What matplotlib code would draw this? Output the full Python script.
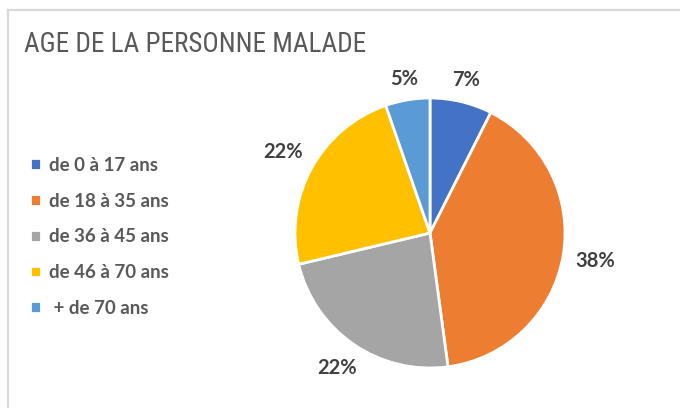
import numpy as np
import matplotlib.pyplot as plt
from matplotlib.lines import Line2D
from matplotlib import font_manager

# data
categories = ['de 0 à 17 ans', 'de 18 à 35 ans', 'de 36 à 45 ans', 'de 46 à 70 ans', ' + de 70 ans']
values = [7, 38, 22, 22, 5]
colors = ['#4472C4', '#ED7D31', '#A5A5A5', '#FFC000', '#5B9BD5']
title = 'AGE DE LA PERSONNE MALADE'

# look for a narrow sans for the title (Arial Narrow look)
narrow = None
for f in font_manager.fontManager.ttflist:
    n = f.name.lower()
    cond = ('narrow' in n or 'condensed' in n or
            str(f.stretch) in ('condensed', 'semi-condensed', 'extra-condensed'))
    if cond and f.style == 'normal' and 'mono' not in n and 'serif' not in n:
        if narrow is None or f.weight in (400, 'normal', 'regular'):
            narrow = f
if narrow is not None:
    title_prop = font_manager.FontProperties(fname=narrow.fname)
else:
    title_prop = font_manager.FontProperties(family='Liberation Sans')

W, H = 680, 408
fig = plt.figure(figsize=(W / 100, H / 100), dpi=100)
fig.patch.set_facecolor('white')

# chart frame (only top and left visible)
fig.add_artist(Line2D([8 / W, 1], [1 - 10 / H, 1 - 10 / H], color='#d9d9d9', lw=1.6))
fig.add_artist(Line2D([8 / W, 8 / W], [0, 1 - 10 / H], color='#d9d9d9', lw=1.6))

title_prop.set_size(19)
tt = fig.text(24 / W, 1 - 52 / H, title, fontproperties=title_prop,
              color='#595959', va='baseline', ha='left')
# fit the title width to the reference (~341 px)
fig.canvas.draw()
w = tt.get_window_extent().width
title_prop.set_size(19 * 341 / w)
tt.set_fontproperties(title_prop)

# pie axes, centre (430, 233), radius 135 px
cx, cy, r = 430, 233, 135
ax = fig.add_axes([(cx - r) / W, (H - cy - r) / H, 2 * r / W, 2 * r / H])
ax.axis('off')

lab_size = 14.5
wedges, texts = ax.pie(
    values,
    colors=colors,
    startangle=90,
    counterclock=False,
    radius=1,
    labels=['%d%%' % v for v in values],
    labeldistance=1.2,
    wedgeprops=dict(edgecolor='white', linewidth=2),
    textprops=dict(family='Lato', fontweight='bold', fontsize=lab_size, color='#404040'),
)
ax.set_xlim(-1, 1)
ax.set_ylim(-1, 1)
ax.set_aspect('auto')

# Excel style outside-end labels: box edge sits just outside the circle
fig.canvas.draw()
hh = 0.36 * lab_size * 100 / 72 / r
for wdg, t in zip(wedges, texts):
    t.set_ha('center')
    t.set_va('center')
    mid = np.deg2rad((wdg.theta1 + wdg.theta2) / 2)
    hw = t.get_window_extent().width / 2 / r
    d = 1.09 + abs(np.cos(mid)) * hw + abs(np.sin(mid)) * hh
    t.set_position((d * np.cos(mid), d * np.sin(mid)))

leg = fig.legend(
    wedges, categories,
    loc='upper left',
    bbox_to_anchor=(13 / W, 1 - 140 / H),
    frameon=False,
    handlelength=0.6,
    handleheight=0.6,
    handletextpad=0.4,
    labelspacing=1.0,
    prop=dict(family='Lato', weight='bold', size=13.5),
)
for t in leg.get_texts():
    t.set_color('#595959')

fig.savefig('out.png', dpi=100)
